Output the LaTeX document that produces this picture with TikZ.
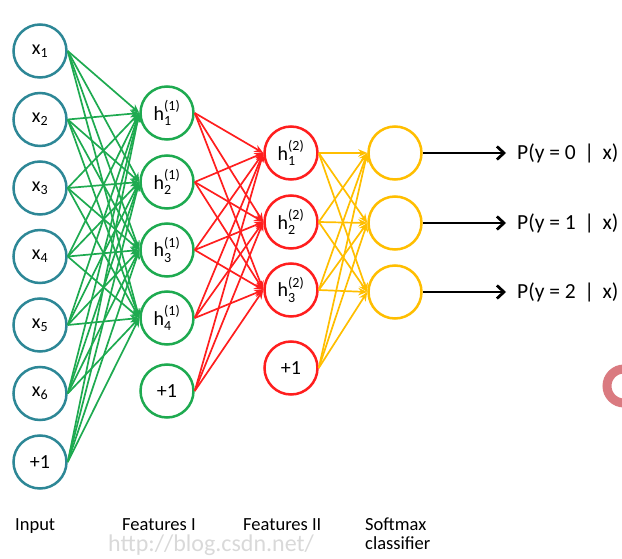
\documentclass[tikz,border=0pt]{standalone}
\usepackage{fontspec}
\setmainfont{Carlito}
\usepackage{amsmath}
\usetikzlibrary{arrows.meta}
\definecolor{inblue}{RGB}{45,135,150}
\definecolor{ngreen}{RGB}{30,170,80}
\definecolor{nred}{RGB}{255,30,30}
\definecolor{nyellow}{RGB}{255,190,0}
\definecolor{ringpink}{RGB}{218,122,128}
\newcommand{\xl}[1]{$\text{x}_{\text{#1}}$}
\newcommand{\hl}[2]{$\text{h}^{\text{(#1)}}_{\text{#2}}$}
\begin{document}
\begin{tikzpicture}[x=1pt,y=-1pt,
  neuron/.style={circle, draw, line width=2.5pt, minimum size=53pt, inner sep=0pt, fill=white,
    font=\fontsize{20}{24}\selectfont},
  inneuron/.style={neuron, draw=inblue},
  f1neuron/.style={neuron, draw=ngreen},
  f2neuron/.style={neuron, draw=nred},
  smneuron/.style={neuron, draw=nyellow},
  conn/.style={line width=1.7pt, -{Stealth[length=9pt,width=7.5pt]}},
  gconn/.style={conn, draw=ngreen},
  rconn/.style={conn, draw=nred},
  yconn/.style={conn, draw=nyellow},
  outarrow/.style={line width=2.8pt, draw=black, -{Straight Barb[length=7pt,width=13pt]}, shorten >=11pt},
  outlabel/.style={anchor=west, inner sep=0pt, font=\fontsize{21.5}{26}\selectfont},
  layerlabel/.style={anchor=base west, inner sep=0pt, font=\fontsize{18.5}{22}\selectfont},
]
\useasboundingbox (0,0) rectangle (622,559);

% watermark
\node[anchor=base west, inner sep=0pt, text=black!15, font=\fontsize{24}{28}\selectfont\rmfamily] (wm) at (108,551) {http://blog.csdn.net/};

% Input layer
\node[inneuron] (x1) at (40,51) {\xl{1}};
\node[inneuron] (x2) at (40,119.5) {\xl{2}};
\node[inneuron] (x3) at (40,188) {\xl{3}};
\node[inneuron] (x4) at (40,256.5) {\xl{4}};
\node[inneuron] (x5) at (40,325) {\xl{5}};
\node[inneuron] (x6) at (40,393.5) {\xl{6}};
\node[inneuron] (xb) at (40,462) {+1};

% Features I
\node[f1neuron] (a1) at (167,113) {\hl{1}{1}};
\node[f1neuron] (a2) at (167,182) {\hl{1}{2}};
\node[f1neuron] (a3) at (167,250) {\hl{1}{3}};
\node[f1neuron] (a4) at (167,318) {\hl{1}{4}};
\node[f1neuron] (ab) at (167,391) {+1};

% Features II
\node[f2neuron] (b1) at (291,153) {\hl{2}{1}};
\node[f2neuron] (b2) at (291,222) {\hl{2}{2}};
\node[f2neuron] (b3) at (291,290) {\hl{2}{3}};
\node[f2neuron] (bb) at (291,368) {+1};

% Softmax
\node[smneuron] (s1) at (395,153) {};
\node[smneuron] (s2) at (395,223) {};
\node[smneuron] (s3) at (395,292) {};

% connectors
\foreach \s in {x1,x2,x3,x4,x5,x6,xb}
  \foreach \t in {a1,a2,a3,a4}
    \draw[gconn] (\s.east) -- (\t.west);
\foreach \s in {a1,a2,a3,a4,ab}
  \foreach \t in {b1,b2,b3}
    \draw[rconn] (\s.east) -- (\t.west);
\foreach \s in {b1,b2,b3,bb}
  \foreach \t in {s1,s2,s3}
    \draw[yconn] (\s.east) -- (\t.west);

% outputs
\node[outlabel] (o1) at (517,153) {P(y = 0 \,|\, x)};
\node[outlabel] (o2) at (517,223) {P(y = 1 \,|\, x)};
\node[outlabel] (o3) at (517,292) {P(y = 2 \,|\, x)};
\draw[outarrow] (s1.east) -- (o1.west);
\draw[outarrow] (s2.east) -- (o2.west);
\draw[outarrow] (s3.east) -- (o3.west);

% layer labels
\node[layerlabel] (l1) at (15,530) {Input};
\node[layerlabel] (l2) at (122,530) {Features I};
\node[layerlabel] (l3) at (243,530) {Features II};
\node[layerlabel] (l4) at (365,530) {Softmax};
\node[layerlabel] (l5) at (365,549) {classifier};

% partial ring at right edge
\draw[ringpink, line width=9pt] (624,386) circle (17pt);
\end{tikzpicture}
\end{document}
